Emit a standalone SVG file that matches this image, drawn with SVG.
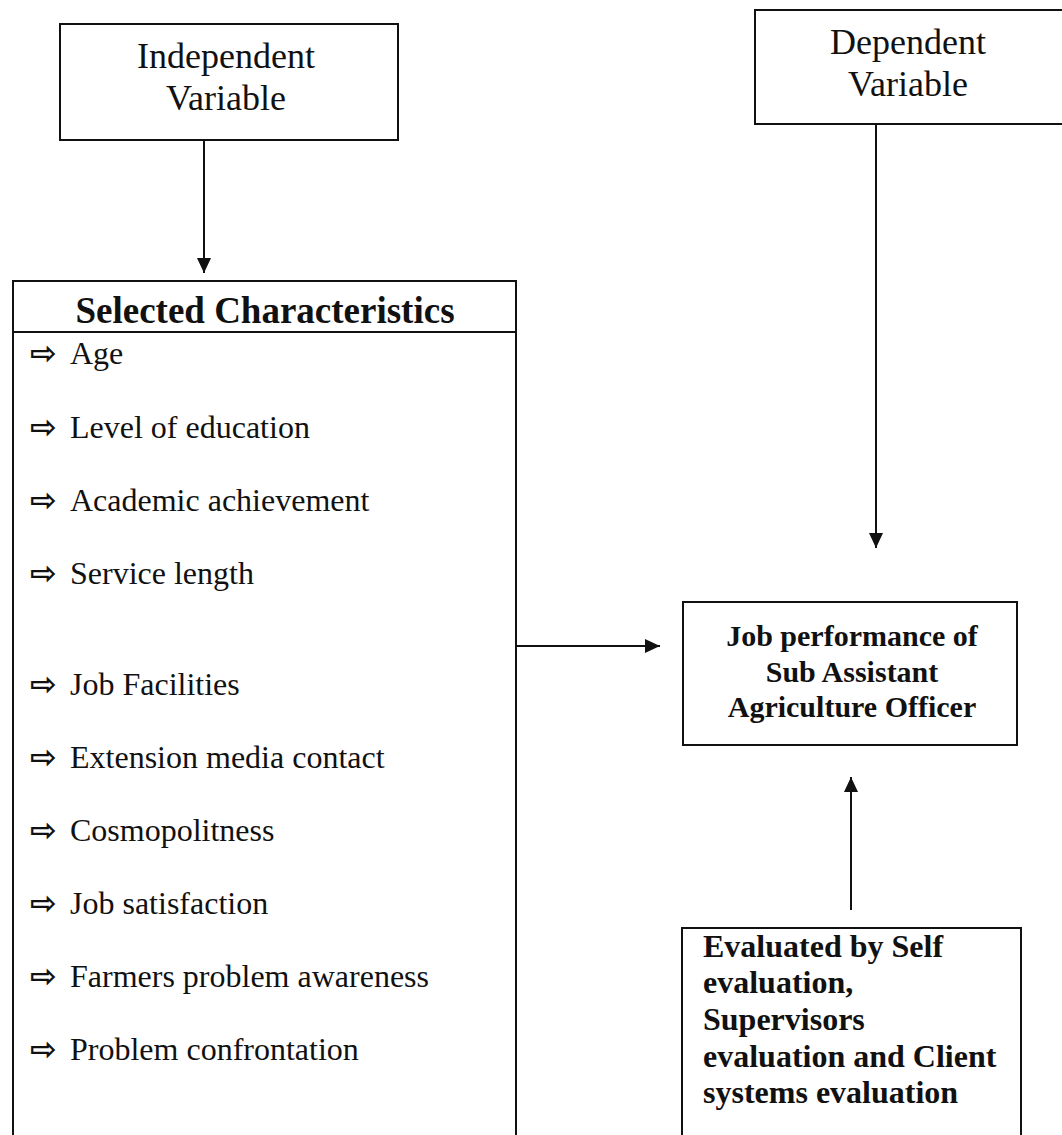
<svg xmlns="http://www.w3.org/2000/svg" width="1062" height="1135" viewBox="0 0 1062 1135">
<style>
.box{fill:#fff;stroke:#111;stroke-width:2}
.t{font-family:"Liberation Serif","Times New Roman",serif;fill:#111}
.h{font-size:36px}
.hb{font-size:37px;font-weight:bold}
.b{font-weight:bold}
.li{font-size:32px}
.jp{font-size:30px;font-weight:bold}
.bul{font-family:"DejaVu Sans",sans-serif;font-size:32px;font-weight:bold}
.c{stroke:#111;stroke-width:2;fill:none}
</style>
<defs>
<marker id="ah" markerUnits="userSpaceOnUse" markerWidth="16" markerHeight="16" refX="15" refY="7" orient="auto">
<path d="M0,0 L15,7 L0,14 Z" fill="#111"/>
</marker>
</defs>
<rect width="1062" height="1135" fill="#fff"/>
<g id="connectors">
<line class="c" x1="204" y1="140" x2="204" y2="273" marker-end="url(#ah)"/>
<line class="c" x1="876" y1="124" x2="876" y2="548" marker-end="url(#ah)"/>
<line class="c" x1="516" y1="646" x2="660" y2="646" marker-end="url(#ah)"/>
<line class="c" x1="851" y1="910" x2="851" y2="777" marker-end="url(#ah)"/>
</g>
<g id="independent">
<rect class="box" x="60" y="24" width="338" height="116"/>
<text class="t h" x="226" y="68" text-anchor="middle">Independent</text>
<text class="t h" x="226" y="110" text-anchor="middle">Variable</text>
</g>
<g id="dependent">
<rect class="box" x="755" y="10" width="310" height="114"/>
<text class="t h" x="908" y="54" text-anchor="middle">Dependent</text>
<text class="t h" x="908" y="96" text-anchor="middle">Variable</text>
</g>
<g id="characteristics">
<rect class="box" x="13" y="281" width="503" height="870"/>
<line class="c" x1="13" y1="332" x2="516" y2="332"/>
<text class="t hb" x="265" y="323" text-anchor="middle">Selected Characteristics</text>
<text class="t li" x="30" y="364"><tspan class="bul">⇨</tspan><tspan x="70">Age</tspan></text>
<text class="t li" x="30" y="438"><tspan class="bul">⇨</tspan><tspan x="70">Level of education</tspan></text>
<text class="t li" x="30" y="511"><tspan class="bul">⇨</tspan><tspan x="70">Academic achievement</tspan></text>
<text class="t li" x="30" y="584"><tspan class="bul">⇨</tspan><tspan x="70">Service length</tspan></text>
<text class="t li" x="30" y="695"><tspan class="bul">⇨</tspan><tspan x="70">Job Facilities</tspan></text>
<text class="t li" x="30" y="768"><tspan class="bul">⇨</tspan><tspan x="70">Extension media contact</tspan></text>
<text class="t li" x="30" y="841"><tspan class="bul">⇨</tspan><tspan x="70">Cosmopolitness</tspan></text>
<text class="t li" x="30" y="914"><tspan class="bul">⇨</tspan><tspan x="70">Job satisfaction</tspan></text>
<text class="t li" x="30" y="987"><tspan class="bul">⇨</tspan><tspan x="70">Farmers problem awareness</tspan></text>
<text class="t li" x="30" y="1060"><tspan class="bul">⇨</tspan><tspan x="70">Problem confrontation</tspan></text>
</g>
<g id="performance">
<rect class="box" x="683" y="602" width="334" height="143"/>
<text class="t jp" x="852" y="646" text-anchor="middle">Job performance of</text>
<text class="t jp" x="852" y="682" text-anchor="middle">Sub Assistant</text>
<text class="t jp" x="852" y="717" text-anchor="middle">Agriculture Officer</text>
</g>
<g id="evaluation">
<rect class="box" x="682" y="928" width="339" height="220"/>
<text class="t li b" x="703" y="957">Evaluated by Self</text>
<text class="t li b" x="703" y="993">evaluation,</text>
<text class="t li b" x="703" y="1030">Supervisors</text>
<text class="t li b" x="703" y="1067">evaluation and Client</text>
<text class="t li b" x="703" y="1103">systems evaluation</text>
</g>
</svg>
